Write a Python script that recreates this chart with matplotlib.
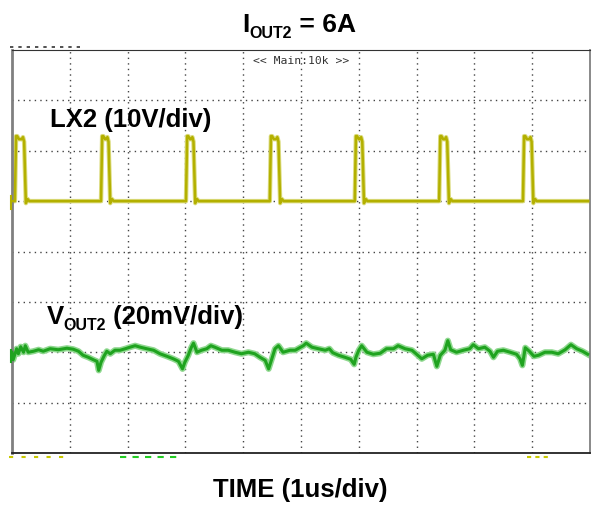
import matplotlib.pyplot as plt
import numpy as np

plt.rcParams['font.family'] = ['Liberation Sans', 'DejaVu Sans']

# LX2 switch node: pulse edges (us) and levels (divisions from centre)
lx2_rise = [0.05, 1.54, 3.01, 4.46, 5.93, 7.39, 8.84]
lx2_fall = [0.22, 1.68, 3.15, 4.62, 6.07, 7.54, 9.00]
lx2_low = 1.0
lx2_high = 2.23
lx2_peak = 2.29
lx2_end = 9.97

# VOUT2 ripple (us, divisions)
vout_t = [0.0, 0.02, 0.08, 0.11, 0.15, 0.20, 0.23, 0.28, 0.37, 0.46, 0.54, 0.66, 0.80,
          0.95, 1.06, 1.15, 1.23, 1.32, 1.41, 1.47, 1.50, 1.54, 1.59, 1.64, 1.70, 1.78,
          1.87, 1.96, 2.04, 2.13, 2.22, 2.33, 2.45, 2.56, 2.68, 2.79, 2.88, 2.95, 2.99,
          3.05, 3.10, 3.14, 3.20, 3.28, 3.37, 3.44, 3.51, 3.63, 3.74, 3.86, 3.97, 4.09,
          4.20, 4.29, 4.38, 4.44, 4.49, 4.55, 4.61, 4.69, 4.81, 4.90, 5.04, 5.09, 5.19,
          5.30, 5.42, 5.49, 5.55, 5.65, 5.76, 5.86, 5.92, 5.95, 6.00, 6.05, 6.14, 6.25,
          6.37, 6.48, 6.60, 6.68, 6.80, 6.92, 7.00, 7.09, 7.19, 7.29, 7.35, 7.41, 7.49,
          7.54, 7.59, 7.69, 7.81, 7.92, 7.98, 8.07, 8.18, 8.27, 8.33, 8.40, 8.50, 8.62,
          8.73, 8.79, 8.83, 8.88, 8.95, 9.03, 9.11, 9.22, 9.34, 9.45, 9.57, 9.67, 9.77,
          9.87, 9.96]
vout_v = [-2.00, -2.15, -1.93, -2.03, -1.89, -2.00, -1.87, -2.00, -1.98, -1.95, -1.98,
          -1.93, -1.95, -1.92, -1.94, -1.98, -2.06, -2.10, -2.15, -2.18, -2.36, -2.20,
          -2.08, -1.98, -2.03, -1.96, -1.96, -1.93, -1.90, -1.87, -1.90, -1.93, -1.96,
          -2.03, -2.08, -2.13, -2.18, -2.33, -2.20, -2.06, -1.91, -1.82, -2.00, -1.96,
          -1.93, -1.87, -1.90, -1.96, -1.96, -2.00, -2.03, -2.00, -2.03, -2.10, -2.16,
          -2.33, -2.15, -1.93, -1.87, -2.00, -1.96, -1.96, -1.87, -1.82, -1.90, -1.93,
          -1.96, -1.93, -2.01, -2.06, -2.10, -2.14, -2.24, -2.10, -1.96, -1.87, -2.00,
          -2.04, -2.02, -1.93, -1.93, -1.87, -1.93, -1.96, -2.04, -2.13, -2.06, -2.04,
          -2.28, -2.06, -1.96, -1.77, -1.95, -2.00, -1.96, -1.93, -1.85, -1.93, -1.90,
          -1.98, -2.10, -1.98, -1.96, -2.00, -2.04, -2.13, -2.26, -1.91, -1.98, -2.08,
          -2.06, -2.00, -2.00, -2.03, -1.95, -1.85, -1.93, -1.98, -2.04]

# build the LX2 trace from the edges
lx_t = [0.0]
lx_v = [lx2_low]
for r, f in zip(lx2_rise, lx2_fall):
    lx_t += [r, r + 0.02, r + 0.04, r + 0.07, f - 0.05, f - 0.03, f - 0.01, f + 0.02, f + 0.05, f + 0.08]
    lx_v += [lx2_low, lx2_peak, lx2_peak, lx2_high, lx2_high, lx2_peak - 0.02, lx2_high - 0.05,
             lx2_low - 0.04, lx2_low + 0.04, lx2_low]
lx_t.append(lx2_end)
lx_v.append(lx2_low)

fig = plt.figure(figsize=(5.95, 5.05), dpi=100)
ax = fig.add_axes([12 / 595, 1 - 453 / 505, 578 / 595, 403 / 505])
ax.set_xlim(0, 10)
ax.set_ylim(-4, 4)
ax.set_xticks([])
ax.set_yticks([])

# dotted scope graticule
for gx in range(1, 10):
    ax.axvline(gx, color='#444444', lw=1.0, ls=(0, (1, 3)), zorder=1)
for gy in range(-3, 4):
    ax.axhline(gy, color='#444444', lw=1.0, ls=(0, (1, 3)), zorder=1)

for s in ['left', 'right']:
    ax.spines[s].set_color('#808080')
ax.spines['left'].set_linewidth(2)
ax.spines['right'].set_linewidth(1.3)
ax.spines['top'].set_color('#333333')
ax.spines['bottom'].set_color('#222222')
ax.spines['bottom'].set_linewidth(1.3)

# traces
ax.plot(lx_t, lx_v, color='#dcdc80', lw=3.2, zorder=2)
ax.plot(lx_t, lx_v, color='#b3b000', lw=1.8, zorder=3)
ax.plot(vout_t, vout_v, color='#8fd88f', lw=4.4, zorder=2)
ax.plot(vout_t, vout_v, color='#1fa31f', lw=2.2, zorder=3)

# channel markers at left edge
ax.plot([-0.02, -0.02], [0.85, 1.1], color='#b3b000', lw=1.5, clip_on=False, zorder=4)
ax.plot([-0.02, -0.02], [-2.2, -1.95], color='#1fa31f', lw=1.5, clip_on=False, zorder=4)


def sub_label(x, y, big, sub, rest, size, subsize, drop, coords):
    # bold text with a lowered, smaller subscript, then the rest on the main baseline
    t1 = plt.text(x, y, big, fontsize=size, fontweight='bold', va='baseline',
                  transform=coords)
    t2 = plt.annotate(sub, xy=(1, 0), xycoords=t1, xytext=(0, -drop),
                      textcoords='offset pixels', fontsize=subsize, fontweight='bold',
                      va='bottom', ha='left')
    plt.annotate(rest, xy=(1, 0), xycoords=(t2, t1), fontsize=size, fontweight='bold',
                 va='bottom', ha='left')


ax.text(0.66, 2.48, 'LX2 (10V/div)', fontsize=18.5, fontweight='bold', va='baseline')
plt.sca(ax)
sub_label(0.60, -1.43, 'V', 'OUT2', ' (20mV/div)', 18.5, 11.5, 4, ax.transData)
ax.text(5.0, 3.88, '<< Main:10k >>', family='DejaVu Sans Mono', fontsize=8.2,
        color='#333333', ha='center', va='top')

sub_label(242 / 595, 1 - 32 / 505, 'I', 'OUT2', ' = 6A', 19, 11.5, 4, fig.transFigure)
fig.text(0.504, 1 - 497 / 505, 'TIME (1us/div)', fontsize=18.5, fontweight='bold',
         ha='center', va='baseline')

# cut-off scope readouts above and below the screen
fig.add_artist(plt.Line2D([10 / 595, 85 / 595], [1 - 47 / 505] * 2, color='#333333',
                          lw=1.2, ls=(0, (2, 3))))
fig.add_artist(plt.Line2D([9 / 595, 70 / 595], [1 - 457 / 505] * 2, color='#c8c800',
                          lw=1.5, ls=(0, (2, 4))))
fig.add_artist(plt.Line2D([120 / 595, 180 / 595], [1 - 457 / 505] * 2, color='#22cc22',
                          lw=1.5, ls=(0, (3, 3))))
fig.add_artist(plt.Line2D([527 / 595, 550 / 595], [1 - 457 / 505] * 2, color='#c8c800',
                          lw=1.5, ls=(0, (2, 2))))

plt.savefig('out.png', dpi=100)
